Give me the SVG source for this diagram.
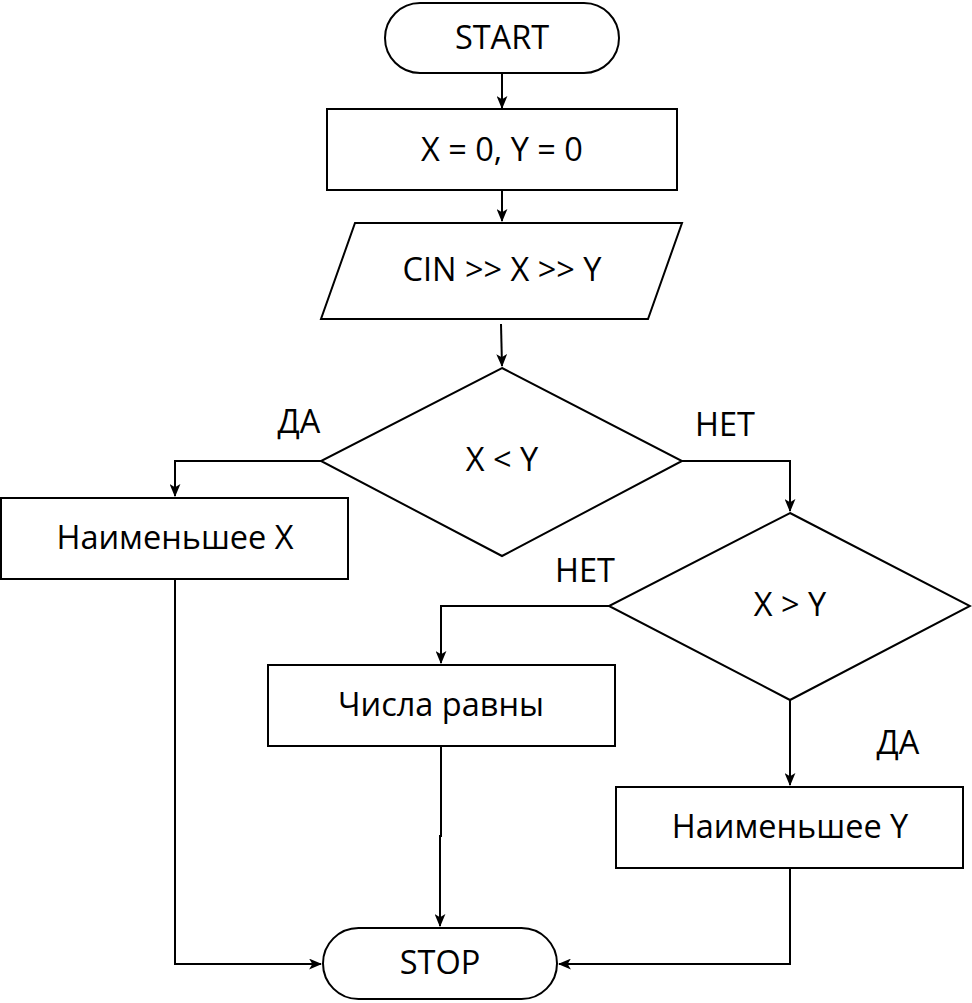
<svg xmlns="http://www.w3.org/2000/svg" width="972" height="1003" viewBox="0 0 972 1003">
<defs>
<marker id="ah" viewBox="0 0 12 10" refX="11" refY="5" markerWidth="13" markerHeight="11" markerUnits="userSpaceOnUse" orient="auto">
<path d="M0,0 L12,5 L0,10 L3,5 Z" fill="#000"/>
</marker>
<style>
.s{fill:#fff;stroke:#000;stroke-width:2}
.c{fill:none;stroke:#000;stroke-width:2;marker-end:url(#ah)}
text{font-family:"Open Sans","Noto Sans","DejaVu Sans",sans-serif;font-size:32.5px;fill:#000;text-anchor:middle;dominant-baseline:central}
</style>
</defs>
<rect width="972" height="1003" fill="#fff"/>
<g id="connectors">
<path class="c" d="M502,73 L502,108"/>
<path class="c" d="M502,190 L502,221"/>
<path class="c" d="M501,324 L502,366"/>
<path class="c" d="M321,461 L175,461 L175,496"/>
<path class="c" d="M682,461 L790,461 L790,511"/>
<path class="c" d="M609,606 L441,606 L441,663"/>
<path class="c" d="M441,746 L441,836 L440,836 L440,926"/>
<path class="c" d="M790,700 L790,785"/>
<path class="c" d="M790,868 L790,964 L559,964"/>
<path class="c" d="M175,579 L175,964 L321,964"/>
</g>
<g id="start">
<rect class="s" x="385" y="3" width="234" height="70" rx="35"/>
<text x="502" y="36">START</text>
</g>
<g id="init">
<rect class="s" x="327" y="109" width="350" height="81"/>
<text x="502" y="148">X = 0, Y = 0</text>
</g>
<g id="input">
<path class="s" d="M355,223 L682,223 L648,319 L321,319 Z"/>
<text x="502" y="268">CIN &gt;&gt; X &gt;&gt; Y</text>
</g>
<g id="cond1">
<path class="s" d="M502,368 L682,461 L502,556 L321,461 Z"/>
<text x="502" y="458">X &lt; Y</text>
</g>
<g id="minx">
<rect class="s" x="1" y="498" width="347" height="81"/>
<text x="175" y="536">Наименьшее X</text>
</g>
<g id="cond2">
<path class="s" d="M790,513 L970,606 L790,700 L609,606 Z"/>
<text x="790" y="603">X &gt; Y</text>
</g>
<g id="equal">
<rect class="s" x="268" y="665" width="347" height="81"/>
<text x="441" y="703">Числа равны</text>
</g>
<g id="miny">
<rect class="s" x="616" y="787" width="347" height="81"/>
<text x="790" y="825">Наименьшее Y</text>
</g>
<g id="stop">
<rect class="s" x="323" y="928" width="234" height="71" rx="35.5"/>
<text x="440" y="961">STOP</text>
</g>
<g id="labels">
<text x="299" y="420">ДА</text>
<text x="725" y="423">НЕТ</text>
<text x="585" y="569">НЕТ</text>
<text x="898" y="741">ДА</text>
</g>
</svg>
